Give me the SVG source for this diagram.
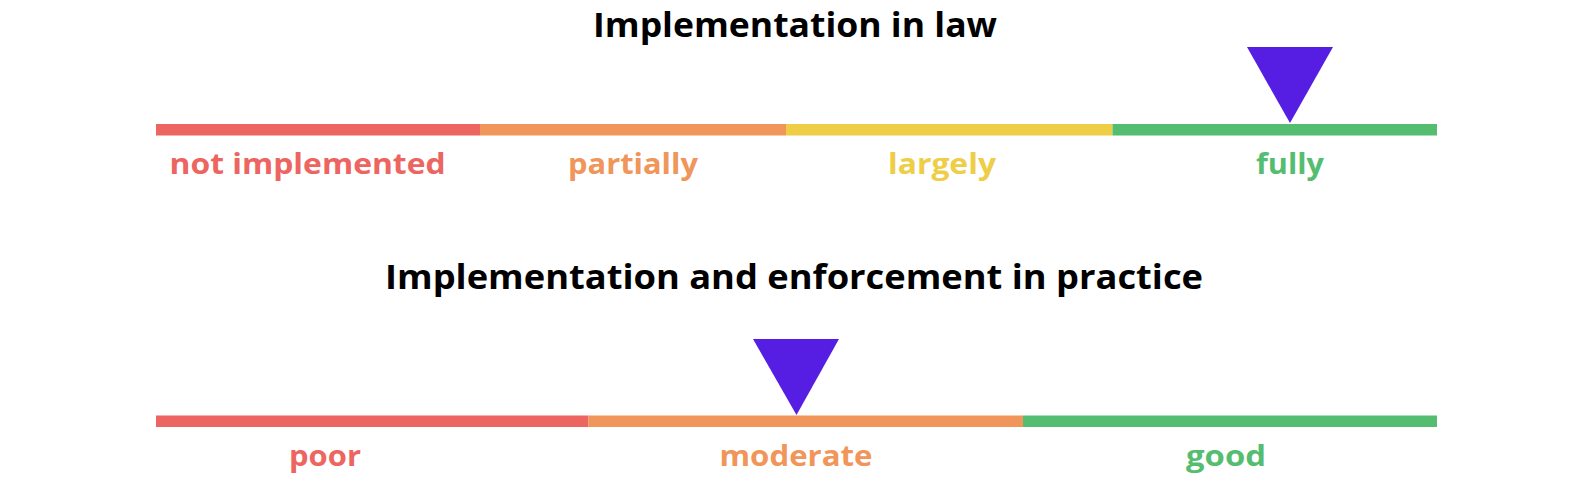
<svg xmlns="http://www.w3.org/2000/svg" width="1586" height="490" viewBox="0 0 1586 490">
<style>
text{font-family:"Open Sans","Liberation Sans",sans-serif;font-weight:700;text-anchor:middle}
.title{font-size:34px;fill:#000}
.lbl{font-size:29px}
.red{fill:#ED6561}.orange{fill:#F0965A}.yellow{fill:#EECD47}.green{fill:#55BD6F}
.marker{fill:#561EE3}
</style>
<rect width="1586" height="490" fill="#fff"/>
<g id="title-law"><text class="title" x="795" y="37" textLength="404" lengthAdjust="spacingAndGlyphs">Implementation in law</text></g>
<g id="scale-law">
<rect class="red" x="156" y="124" width="324" height="11.5"/>
<rect class="orange" x="480" y="124" width="306" height="11.5"/>
<rect class="yellow" x="786" y="124" width="326.5" height="11.5"/>
<rect class="green" x="1112.5" y="124" width="324.5" height="11.5"/>
</g>
<g id="label-not-implemented"><text class="lbl red" x="307.6" y="174" textLength="276" lengthAdjust="spacingAndGlyphs">not implemented</text></g>
<g id="label-partially"><text class="lbl orange" x="633" y="174" textLength="130" lengthAdjust="spacingAndGlyphs">partially</text></g>
<g id="label-largely"><text class="lbl yellow" x="942" y="174" textLength="108" lengthAdjust="spacingAndGlyphs">largely</text></g>
<g id="label-fully"><text class="lbl green" x="1290" y="174" textLength="68" lengthAdjust="spacingAndGlyphs">fully</text></g>
<g id="marker-law"><polygon class="marker" points="1247,47 1333,47 1290,123"/></g>
<g id="title-practice"><text class="title" x="794" y="289" textLength="818" lengthAdjust="spacingAndGlyphs">Implementation and enforcement in practice</text></g>
<g id="scale-practice">
<rect class="red" x="156" y="415.5" width="432.5" height="11.5"/>
<rect class="orange" x="588.5" y="415.5" width="434.5" height="11.5"/>
<rect class="green" x="1023" y="415.5" width="414" height="11.5"/>
</g>
<g id="label-poor"><text class="lbl red" x="325" y="465.5" textLength="72" lengthAdjust="spacingAndGlyphs">poor</text></g>
<g id="label-moderate"><text class="lbl orange" x="796" y="465.5" textLength="153" lengthAdjust="spacingAndGlyphs">moderate</text></g>
<g id="label-good"><text class="lbl green" x="1226" y="465.5" textLength="80" lengthAdjust="spacingAndGlyphs">good</text></g>
<g id="marker-practice"><polygon class="marker" points="753,339 839,339 796.5,415"/></g>
<g id="connectors"></g>
</svg>
